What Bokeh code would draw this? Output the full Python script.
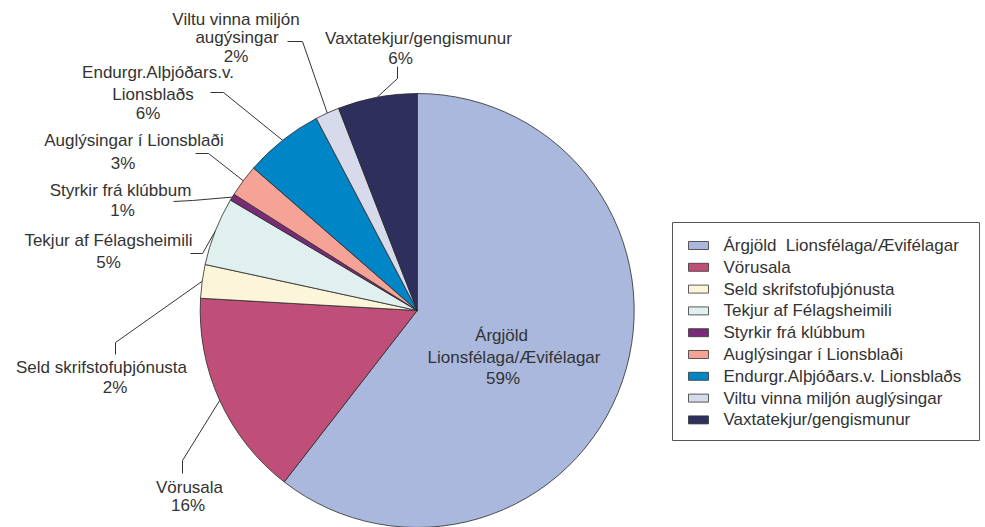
import math
from bokeh.plotting import figure
from bokeh.models import Range1d, ColumnDataSource
from bokeh.core.properties import value
from bokeh.embed import file_html
from bokeh.resources import INLINE

# ---- data ----
categories = [
    "Árgjöld\u00a0 Lionsfélaga/Ævifélagar",
    "Vörusala",
    "Seld skrifstofuþjónusta",
    "Tekjur af Félagsheimili",
    "Styrkir frá klúbbum",
    "Auglýsingar í Lionsblaði",
    "Endurgr.Alþjóðars.v. Lionsblaðs",
    "Viltu vinna miljón auglýsingar",
    "Vaxtatekjur/gengismunur",
]
shares = [60.5, 15.4, 2.5, 5.1, 0.5, 2.4, 5.9, 1.8, 5.9]
pct_labels = ["59%", "16%", "2%", "5%", "1%", "3%", "6%", "2%", "6%"]
colors = ["#A9B8DC", "#BF4F79", "#FDF5DA", "#DFF0EE", "#7A2B78",
          "#F4A396", "#0086C6", "#D6DAEA", "#2E2F5D"]
# slice label text lines (without the percentage)
label_lines = [
    ["Árgjöld", "Lionsfélaga/Ævifélagar"],
    ["Vörusala"],
    ["Seld skrifstofuþjónusta"],
    ["Tekjur af Félagsheimili"],
    ["Styrkir frá klúbbum"],
    ["Auglýsingar í Lionsblaði"],
    ["Endurgr.Alþjóðars.v.", "Lionsblaðs"],
    ["Viltu vinna miljón", "augýsingar"],
    ["Vaxtatekjur/gengismunur"],
]

# ---- layout (screen pixel positions) ----
W, H = 985, 527
def Y(sy):
    return H - sy

CX, CY, R = 416.7, 310.0, 217.0
FONT = value("Liberation Sans")
TXT = "#333333"
FS = "17px"

label_x = [
    [501, 513.5, 502.5],
    [189, 187.5],
    [101, 114.5],
    [108, 108],
    [120, 122],
    [133.5, 122.5],
    [157.5, 152.5, 147.5],
    [235.5, 236.5, 235.5],
    [418, 400],
]
label_y = [
    [335, 357, 378],
    [487, 505],
    [367, 387],
    [240, 262],
    [190, 210],
    [140, 163],
    [72, 94, 113],
    [19, 37, 56],
    [38, 58],
]
leader_pts = [
    None,
    [(182, 473), (182, 460)],
    [(115, 354), (115, 342)],
    [(190, 253), (202, 253)],
    [(173, 201), (192, 200)],
    [(195, 153), (208, 153)],
    [(210, 92), (223, 92)],
    [(287, 41), (302, 41)],
    [(397, 66), (397, 78)],
]

p = figure(width=W, height=H, output_backend="svg", toolbar_location=None,
           x_range=Range1d(0, W), y_range=Range1d(0, H), min_border=0)
p.axis.visible = False
p.grid.visible = False
p.outline_line_color = None
p.background_fill_color = "white"
p.border_fill_color = "white"

# ---- pie ----
total = sum(shares)
starts, ends, mids = [], [], []
cum = 0.0
for s in shares:
    c0 = cum / total
    cum += s
    c1 = cum / total
    starts.append(math.pi / 2 - 2 * math.pi * c1)
    ends.append(math.pi / 2 - 2 * math.pi * c0)
    mids.append(math.pi / 2 - 2 * math.pi * (c0 + c1) / 2)

src = ColumnDataSource(dict(start=starts, end=ends, color=colors))
p.wedge(x=CX, y=Y(CY), radius=R, start_angle="start", end_angle="end",
        fill_color="color", line_color="#2a2a2a", line_width=0.8, source=src)

# ---- leaders ----
lx, ly = [], []
for i, pts in enumerate(leader_pts):
    if pts is None:
        continue
    ax = CX + R * math.cos(mids[i])
    ay = Y(CY) + R * math.sin(mids[i])
    lx.append([pts[0][0], pts[1][0], ax])
    ly.append([Y(pts[0][1]), Y(pts[1][1]), ay])
p.multi_line(lx, ly, line_color="#333333", line_width=1)

# ---- labels ----
tx, ty, tt = [], [], []
for i in range(len(shares)):
    lines = label_lines[i] + [pct_labels[i]]
    for j, t in enumerate(lines):
        tx.append(label_x[i][j])
        ty.append(Y(label_y[i][j]))
        tt.append(t)
p.text(x=tx, y=ty, text=tt, text_align="center", text_baseline="middle",
       text_font=FONT, text_font_size=FS, text_color=TXT)

# ---- legend ----
p.quad(left=672, right=979, top=Y(222), bottom=Y(440), fill_color="white",
       line_color="#555555", line_width=1)
ry = [Y(245 + i * 21.8) for i in range(len(categories))]
p.rect(x=[698] * len(categories), y=ry, width=20, height=8,
       fill_color=colors, line_color="#333333", line_width=0.8)
p.text(x=[723] * len(categories), y=ry, text=categories, text_align="left",
       text_baseline="middle", text_font=FONT, text_font_size=FS,
       text_color=TXT)

open("out.html", "w").write(file_html(p, INLINE))
